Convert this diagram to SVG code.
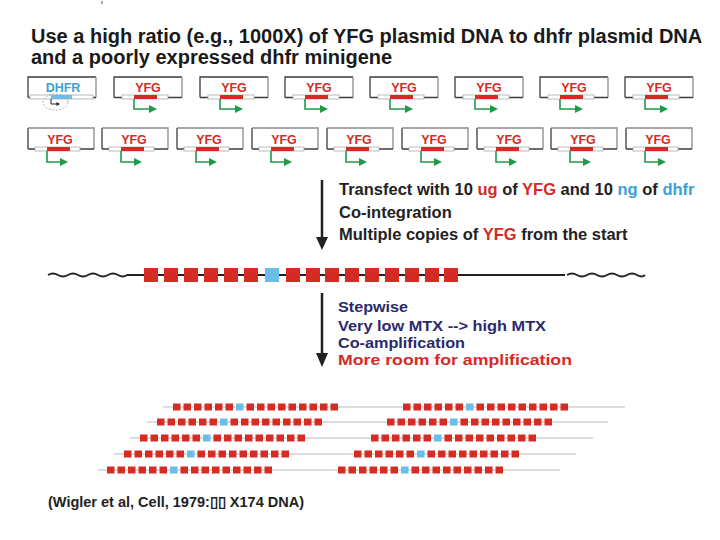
<svg xmlns="http://www.w3.org/2000/svg" xmlns:xlink="http://www.w3.org/1999/xlink" width="720" height="540" viewBox="0 0 720 540">
<style>
text{font-family:"Liberation Sans",Arial,sans-serif;font-weight:bold}
.title{font-size:20px;fill:#1a1a1a}
.lbl{font-size:12.5px;text-anchor:middle}
.red{fill:#d42b24}
.blue{fill:#3aa0d8}
.box{fill:none;stroke:#3c3c3c;stroke-width:1.3}
.boxr{fill:none;stroke:#8a8a8a;stroke-width:1.3}
.gbar{fill:#fff;stroke:#aaa;stroke-width:0.8}
.rbar{fill:#d42b24}
.bbar{fill:#6bbde8}
.garr{fill:none;stroke:#1e9a4a;stroke-width:1.6}
.step{font-size:16.5px;fill:#222}
.navy{font-size:15px;fill:#2b2a6b}
.more{font-size:15.5px;fill:#d42b24}
.rsq{fill:#d42b24}
.bsq{fill:#6bbde8}
.thin{stroke:#bbb;stroke-width:1}
</style>
<defs>
<g id="yfg1">
<path class="box" d="M0,20.5 V0 H68"/>
<path class="boxr" d="M68,0 V20.5"/>
<path class="box" d="M0,20.5 H68"/>
<rect class="gbar" x="8" y="18" width="46" height="4"/>
<rect class="rbar" x="20" y="18" width="23" height="4"/>
<text class="lbl red" x="34" y="15">YFG</text>
<path class="garr" d="M20,22 V32 H36"/>
<polygon fill="#1e9a4a" points="35,28 43,32 35,36"/>
</g>
<g id="yfg2">
<path class="box" d="M0,21 V0"/>
<path class="boxr" d="M0,0 H66 V21"/>
<path class="box" d="M0,21 H66"/>
<rect class="gbar" x="7" y="19" width="45" height="4"/>
<rect class="rbar" x="19" y="19" width="23" height="4"/>
<text class="lbl red" x="32" y="16">YFG</text>
<path class="garr" d="M19,23 V34 H33"/>
<polygon fill="#1e9a4a" points="32,30 40,34 32,38"/>
</g>
<g id="amp">
<rect class="rsq" x="0" y="-3.5" width="7.5" height="7"/>
<rect class="rsq" x="10.5" y="-3.5" width="7.5" height="7"/>
<rect class="rsq" x="21" y="-3.5" width="7.5" height="7"/>
<rect class="rsq" x="31.5" y="-3.5" width="7.5" height="7"/>
<rect class="rsq" x="42" y="-3.5" width="7.5" height="7"/>
<rect class="rsq" x="52.5" y="-3.5" width="7.5" height="7"/>
<rect class="bsq" x="63" y="-3.5" width="7.5" height="7"/>
<rect class="rsq" x="73.5" y="-3.5" width="7.5" height="7"/>
<rect class="rsq" x="84" y="-3.5" width="7.5" height="7"/>
<rect class="rsq" x="94.5" y="-3.5" width="7.5" height="7"/>
<rect class="rsq" x="105" y="-3.5" width="7.5" height="7"/>
<rect class="rsq" x="115.5" y="-3.5" width="7.5" height="7"/>
<rect class="rsq" x="126" y="-3.5" width="7.5" height="7"/>
<rect class="rsq" x="136.5" y="-3.5" width="7.5" height="7"/>
<rect class="rsq" x="147" y="-3.5" width="7.5" height="7"/>
<rect class="rsq" x="157.5" y="-3.5" width="7.5" height="7"/>
</g>
</defs>
<rect width="720" height="540" fill="#fff"/>
<line x1="102" y1="1" x2="102" y2="4" stroke="#555" stroke-width="1"/>

<g id="title">
<text class="title" x="31" y="43">Use a high ratio (e.g., 1000X) of YFG plasmid DNA to dhfr plasmid DNA</text>
<text class="title" x="31" y="64">and a poorly expressed dhfr minigene</text>
</g>

<g id="dhfr-plasmid">
<path class="box" d="M28,97.5 V77 H96"/>
<path class="boxr" d="M96,77 V97.5"/>
<path class="box" d="M28,97.5 H96"/>
<rect class="gbar" x="30" y="95" width="63" height="4"/>
<rect class="bbar" x="51" y="95" width="21" height="4"/>
<text class="lbl blue" x="63" y="92">DHFR</text>
<ellipse cx="55.5" cy="102" rx="12.5" ry="8" fill="none" stroke="#999" stroke-width="0.8" stroke-dasharray="2,1.5"/>
<path d="M51,99 V104 H57" fill="none" stroke="#222" stroke-width="1"/>
<polygon fill="#222" points="56.5,102 60,104 56.5,106"/>
</g>

<g id="yfg-row1">
<use xlink:href="#yfg1" x="114" y="77"/>
<use xlink:href="#yfg1" x="200" y="77"/>
<use xlink:href="#yfg1" x="285" y="77"/>
<use xlink:href="#yfg1" x="370" y="77"/>
<use xlink:href="#yfg1" x="455" y="77"/>
<use xlink:href="#yfg1" x="540" y="77"/>
<use xlink:href="#yfg1" x="625" y="77"/>
</g>

<g id="yfg-row2">
<use xlink:href="#yfg2" x="28" y="128"/>
<use xlink:href="#yfg2" x="102" y="128"/>
<use xlink:href="#yfg2" x="177" y="128"/>
<use xlink:href="#yfg2" x="252" y="128"/>
<use xlink:href="#yfg2" x="327" y="128"/>
<use xlink:href="#yfg2" x="402" y="128"/>
<use xlink:href="#yfg2" x="477" y="128"/>
<use xlink:href="#yfg2" x="551" y="128"/>
<use xlink:href="#yfg2" x="626" y="128"/>
</g>

<g id="connectors">
<line x1="322" y1="180" x2="322" y2="240" stroke="#222" stroke-width="2.5"/>
<polygon fill="#222" points="316,237 328,237 322,250"/>
<line x1="322" y1="293" x2="322" y2="356" stroke="#222" stroke-width="2.5"/>
<polygon fill="#222" points="316,353 328,353 322,367"/>
</g>

<g id="step1-text">
<text class="step" x="339" y="195">Transfect with 10 <tspan class="red">ug</tspan> of <tspan class="red">YFG</tspan> and 10 <tspan class="blue">ng</tspan> of <tspan class="blue">dhfr</tspan></text>
<text class="step" x="339" y="218">Co-integration</text>
<text class="step" x="339" y="240">Multiple copies of <tspan class="red">YFG</tspan> from the start</text>
</g>

<g id="chromosome">
<path d="M48,275 q5,-3 10,0 t10,0 t10,0 t10,0 t10,0 t10,0 t10,0 t9,0" fill="none" stroke="#222" stroke-width="1.8"/>
<line x1="127" y1="275" x2="565" y2="275" stroke="#222" stroke-width="1.8"/>
<path d="M567,275 q5,-3 10,0 t10,0 t10,0 t10,0 t10,0 t10,0 t10,0 t8,0" fill="none" stroke="#222" stroke-width="1.8"/>
<rect class="rsq" x="144" y="268" width="14" height="14"/>
<rect class="rsq" x="164" y="268" width="14" height="14"/>
<rect class="rsq" x="184" y="268" width="14" height="14"/>
<rect class="rsq" x="204" y="268" width="14" height="14"/>
<rect class="rsq" x="224" y="268" width="14" height="14"/>
<rect class="rsq" x="244" y="268" width="14" height="14"/>
<rect class="bsq" x="265" y="268" width="14" height="14"/>
<rect class="rsq" x="286" y="268" width="14" height="14"/>
<rect class="rsq" x="306" y="268" width="14" height="14"/>
<rect class="rsq" x="325" y="268" width="14" height="14"/>
<rect class="rsq" x="345" y="268" width="14" height="14"/>
<rect class="rsq" x="365" y="268" width="14" height="14"/>
<rect class="rsq" x="385" y="268" width="14" height="14"/>
<rect class="rsq" x="405" y="268" width="14" height="14"/>
<rect class="rsq" x="425" y="268" width="14" height="14"/>
<rect class="rsq" x="444" y="268" width="14" height="14"/>
</g>

<g id="step2-text">
<text class="navy" x="338" y="312" textLength="70" lengthAdjust="spacingAndGlyphs">Stepwise</text>
<text class="navy" x="338" y="330.5" textLength="208" lengthAdjust="spacingAndGlyphs">Very low MTX --&gt; high MTX</text>
<text class="navy" x="338" y="347.5" textLength="127" lengthAdjust="spacingAndGlyphs">Co-amplification</text>
<text class="more" x="338" y="365" textLength="234" lengthAdjust="spacingAndGlyphs">More room for amplification</text>
</g>

<g id="amplified">
<line class="thin" x1="163" y1="407" x2="625" y2="407"/>
<line class="thin" x1="147" y1="422" x2="608" y2="422"/>
<line class="thin" x1="130" y1="438" x2="593" y2="438"/>
<line class="thin" x1="114" y1="454" x2="576" y2="454"/>
<line class="thin" x1="98" y1="470" x2="560" y2="470"/>
<use xlink:href="#amp" x="173" y="407"/>
<use xlink:href="#amp" x="157" y="422"/>
<use xlink:href="#amp" x="140" y="438"/>
<use xlink:href="#amp" x="124" y="454"/>
<use xlink:href="#amp" x="107" y="470"/>
<use xlink:href="#amp" x="403" y="407"/>
<use xlink:href="#amp" x="387" y="422"/>
<use xlink:href="#amp" x="371" y="438"/>
<use xlink:href="#amp" x="354" y="454"/>
<use xlink:href="#amp" x="338" y="470"/>
</g>

<g id="citation">
<text x="48" y="507" style="font-size:14.5px;fill:#222">(Wigler et al, Cell, 1979:▯▯ X174 DNA)</text>
</g>
</svg>
